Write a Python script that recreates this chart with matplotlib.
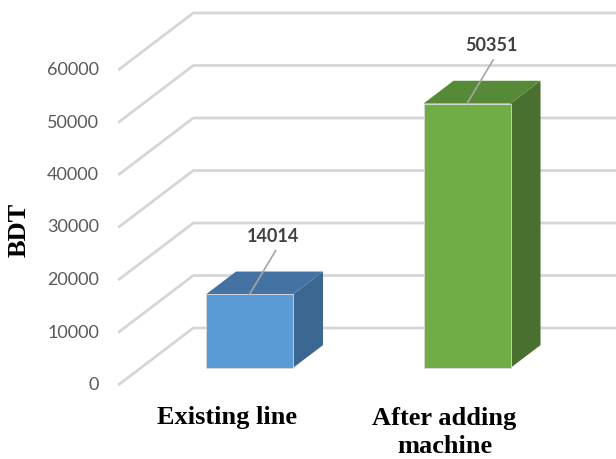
import matplotlib
matplotlib.use("Agg")
import matplotlib.pyplot as plt
from matplotlib.patches import Polygon

# data
categories = ["Existing line", "After adding\nmachine"]
values = [14014, 50351]
ticks = [0, 10000, 20000, 30000, 40000, 50000, 60000]

# colours for each bar: front, top, side
front_cols = ["#5b9bd5", "#70ad47"]
top_cols = ["#4372a3", "#568a36"]
side_cols = ["#3b6790", "#4a7030"]

# oblique "3d" look: depth d in [0, 1] moves a point right and up
DX = 0.345      # category units for full depth
DY = 10857      # BDT units for full depth
BAR_W = 0.4
D_FRONT, D_BACK = 0.3, 0.7


def proj(x, v, d):
    return x + d * DX, v + d * DY


fig = plt.figure(figsize=(6.16, 4.59), dpi=100)
ax = fig.add_axes([0, 0, 1, 1])
ax.set_xlim(-227 / 217.5, (616 - 227) / 217.5)
ax.set_ylim(-74 / 52.5 * 1e4, 385 / 52.5 * 1e4)
ax.axis("off")

# gridlines: short diagonal on the side wall, then flat along the back wall
grid_col = "#d6d6d6"
for t in ticks:
    x0, y0 = proj(-0.5, t, 0)
    x1, y1 = proj(-0.5, t, 1)
    ax.plot([x0, x1, 3], [y0, y1, y1], color=grid_col, lw=2.0,
            solid_capstyle="butt", zorder=1)
    ax.text(x0 - 0.088, y0, str(t), ha="right", va="center",
            fontsize=13, family="Lato", color="#595959")

# bars
for i, (v, fc, tc, sc) in enumerate(zip(values, front_cols, top_cols, side_cols)):
    l, r = i - BAR_W / 2, i + BAR_W / 2
    front = [proj(l, 0, D_FRONT), proj(r, 0, D_FRONT),
             proj(r, v, D_FRONT), proj(l, v, D_FRONT)]
    top = [proj(l, v, D_FRONT), proj(r, v, D_FRONT),
           proj(r, v, D_BACK), proj(l, v, D_BACK)]
    side = [proj(r, 0, D_FRONT), proj(r, 0, D_BACK),
            proj(r, v, D_BACK), proj(r, v, D_FRONT)]
    ax.add_patch(Polygon(side, closed=True, fc=sc, ec="none", zorder=2))
    ax.add_patch(Polygon(top, closed=True, fc=tc, ec="none", zorder=2))
    ax.add_patch(Polygon(front, closed=True, fc=fc, ec="#d9d9d9", lw=0.6, zorder=2))

    # value label with a leader line down to the front-top edge
    bx, by = proj(i, v, D_FRONT)
    lx, ly = bx + 0.12, by + 8300
    ax.plot([bx, lx], [by, ly], color="#a6a6a6", lw=1.2, zorder=3)
    ax.text(lx - 0.01, ly + 2800, str(v), ha="center", va="center",
            fontsize=13, family="Lato", fontweight="bold", color="#404040", zorder=3)

    # category label under the bar
    cy = -6200 if "\n" not in categories[i] else -9000
    ax.text(i, cy, categories[i], ha="center", va="center", linespacing=1.3,
            fontsize=19, family="Liberation Serif", fontweight="bold", color="black")

ax.text(-0.955, 29500, "BDT", rotation=90, ha="center", va="center",
        fontsize=19, family="Liberation Serif", fontweight="bold", color="black")

fig.savefig("out.png", dpi=100)
